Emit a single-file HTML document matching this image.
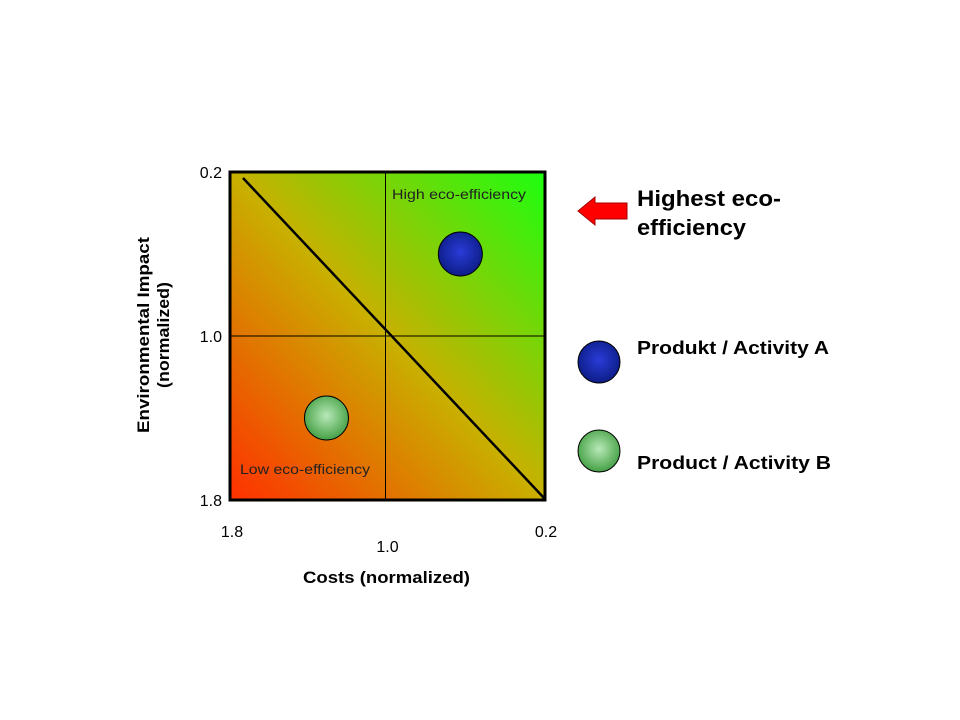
<!DOCTYPE html>
<html><head><meta charset="utf-8"><style>
body{margin:0;background:#fff;width:960px;height:720px;overflow:hidden}
svg{display:block;font-family:"Liberation Sans",Arial,sans-serif}
</style></head><body>
<svg width="960" height="720" viewBox="0 0 960 720">
<defs>
<linearGradient id="bg" x1="0" y1="1" x2="1" y2="0">
<stop offset="0" stop-color="#ff3000"/><stop offset="0.5" stop-color="#c8b000"/><stop offset="1" stop-color="#1cff10"/>
</linearGradient>
<radialGradient id="gb" cx="0.5" cy="0.45" r="0.6"><stop offset="0" stop-color="#2a3cd8"/><stop offset="1" stop-color="#0a1a80"/></radialGradient>
<radialGradient id="gg" cx="0.5" cy="0.45" r="0.6"><stop offset="0" stop-color="#b8e8b8"/><stop offset="1" stop-color="#3a9a3a"/></radialGradient>
</defs>
<g id="plot"></g>
<path d="M578,211 L595,197 L595,203 L627,203 L627,219 L595,219 L595,225 Z" fill="#ff0000" stroke="#a00000" stroke-width="1"/>
<text x="637" y="206" font-size="22" font-weight="bold" textLength="144" lengthAdjust="spacingAndGlyphs">Highest eco-</text>
<text x="637" y="235" font-size="22" font-weight="bold" textLength="109" lengthAdjust="spacingAndGlyphs">efficiency</text>
<circle cx="599" cy="362" r="21" fill="url(#gb)" stroke="#000" stroke-width="1"/>
<text x="637" y="354" font-size="18" font-weight="bold" textLength="192" lengthAdjust="spacingAndGlyphs">Produkt / Activity A</text>
<circle cx="599" cy="451" r="21" fill="url(#gg)" stroke="#000" stroke-width="1"/>
<text x="637" y="469" font-size="18" font-weight="bold" textLength="194" lengthAdjust="spacingAndGlyphs">Product / Activity B</text>
<text x="303" y="583" font-size="17" font-weight="bold" textLength="167" lengthAdjust="spacingAndGlyphs">Costs (normalized)</text>
<g transform="translate(155,335) rotate(-90)" font-size="17" font-weight="bold">
<text x="-98" y="-6" textLength="196" lengthAdjust="spacingAndGlyphs">Environmental Impact</text><text x="-53" y="14" textLength="106" lengthAdjust="spacingAndGlyphs">(normalized)</text></g>
</svg>
<script>
const xTicks=[1.8,1.0,0.2];
const yTicks=[0.2,1.0,1.8];
const names=["Produkt / Activity A","Product / Activity B"];
const costs=[0.63,1.31];
const impacts=[0.6,1.4];
const L=230,R=545,T=172,B=500;
const x=v=>L+(1.8-v)/1.6*(R-L);
const y=v=>T+(v-0.2)/1.6*(B-T);
const NS="http://www.w3.org/2000/svg";
const g=document.getElementById('plot');
function mk(t,a,p){const e=document.createElementNS(NS,t);for(const k in a)e.setAttribute(k,a[k]);(p||g).appendChild(e);return e;}
let e=mk('rect',{x:L,y:T,width:R-L,height:B-T,fill:'url(#bg)'});


e=mk('line',{x1:x(1.0)-2,y1:T,x2:x(1.0)-2,y2:B,stroke:'#000','stroke-width':1});


e=mk('line',{x1:L,y1:y(1.0),x2:R,y2:y(1.0),stroke:'#000','stroke-width':1});


e=mk('line',{x1:243,y1:178,x2:544,y2:498,stroke:'#000','stroke-width':2.5});


e=mk('rect',{x:L,y:T,width:R-L,height:B-T,fill:'none',stroke:'#000','stroke-width':3});


e=mk('text',{x:392,y:199,'font-size':14,fill:'#222',textLength:134,lengthAdjust:'spacingAndGlyphs'});e.textContent='High eco-efficiency';


e=mk('text',{x:240,y:474,'font-size':14,fill:'#222',textLength:130,lengthAdjust:'spacingAndGlyphs'});e.textContent='Low eco-efficiency';


const fills=['url(#gb)','url(#gg)'];
costs.forEach((c,i)=>{const p=mk('circle',{cx:x(c),cy:y(impacts[i]),r:22,fill:fills[i],stroke:'#000','stroke-width':1});


const tt=mk('title',{},p);tt.textContent=names[i];});
const xOff=[0,15,0];
xTicks.forEach((v,i)=>{const t=mk('text',{x:x(v)+(i==0?2:i==2?1:0),y:537+xOff[i],'font-size':16,'text-anchor':'middle'});t.textContent=v.toFixed(1);

});
yTicks.forEach(v=>{const t=mk('text',{x:222,y:y(v)+6,'font-size':16,'text-anchor':'end'});t.textContent=v.toFixed(1);

});
</script>
</body></html>
